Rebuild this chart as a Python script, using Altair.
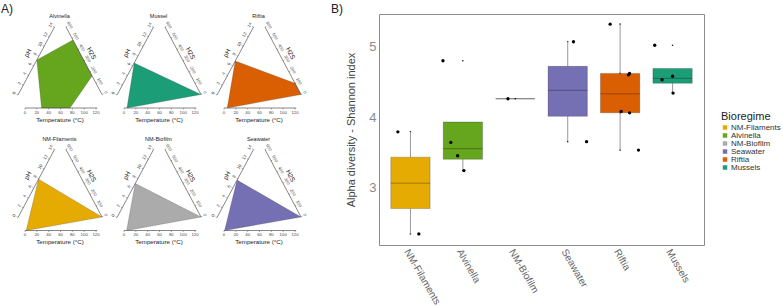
import altair as alt
import pandas as pd
import math

# ---------------- Panel A data (ternary-like panels) ----------------
panel_titles = ["Alvinella", "Mussel", "Riftia", "NM-Filaments", "NM-Biofilm", "Seawater"]
panel_regimes = ["Alvinella", "Mussels", "Riftia", "NM-Filaments", "NM-Biofilm", "Seawater"]
panel_ph = [[7.2], [6.6], [7.0], [7.9], [7.0], [7.7]]
panel_h2s = [[485, 165], [0], [100, 0], [0], [0], [0]]
panel_temp = [[76, 28], [5], [5.5], [2], [4.5], [1]]

ph_ticks = [0, 2, 4, 6, 8, 10, 12, 14]
h2s_ticks = [0, 100, 200, 300, 400, 500, 600]
temp_ticks = [0, 20, 40, 60, 80, 100, 120]

# ---------------- Panel B data (box plots) ----------------
categories = ["NM-Filaments", "Alvinella", "NM-Biofilm", "Seawater", "Riftia", "Mussels"]
palette = ["#E6AB02", "#66A61E", "#ABABAB", "#7570B3", "#D95F02", "#1B9E77"]
box_q1 = [2.70, 3.40, 4.26, 4.01, 4.06, 4.48]
box_median = [3.06, 3.55, 4.26, 4.38, 4.33, 4.55]
box_q3 = [3.43, 3.93, 4.26, 4.72, 4.62, 4.69]
whisker_low = [2.34, 3.24, 4.26, 3.66, 3.53, 4.34]
whisker_high = [3.79, 3.93, 4.26, 5.07, 5.32, 4.69]
sample_values = [
    [3.79, 2.34],
    [4.80, 3.64, 3.45, 3.24],
    [4.26],
    [5.07, 3.65],
    [5.32, 4.62, 4.60, 4.08, 4.06, 3.53],
    [5.02, 4.58, 4.53, 4.34],
]
sample_jitter = [
    [-0.24, 0.16],
    [-0.38, -0.23, -0.10, 0.02],
    [-0.14],
    [0.11, 0.36],
    [-0.19, 0.18, 0.16, 0.02, 0.18, 0.35],
    [-0.34, 0.0, -0.20, 0.01],
]

# ---------------- layout constants ----------------
NARROW = "Liberation Sans Narrow, Arial Narrow, Liberation Sans, Arial, sans-serif"
SANS = "Liberation Sans, Arial, sans-serif"
PLOT_L, PLOT_T, PLOT_W, PLOT_H = 379, 14, 325, 231
X_DOM = [-0.6, 5.6]
Y_DOM = [2.182, 5.464]
COL_DX = [0, 99, 199]
ROW_DY = [0, 122.5]
T_X0, T_PX, T_Y = 25, 0.592, 108
PH_A, PH_B = (18, 95), (54.5, 27)
H_A, H_B = (102, 94.5), (66, 27)


def bx(px):
    # page position -> x units of the shared scale
    return X_DOM[0] + (px - PLOT_L) / PLOT_W * (X_DOM[1] - X_DOM[0])


def by(py):
    return Y_DOM[1] - (py - PLOT_T) / PLOT_H * (Y_DOM[1] - Y_DOM[0])


def along(a, b, t):
    return a[0] + t * (b[0] - a[0]), a[1] + t * (b[1] - a[1])


def unit(dx, dy):
    n = math.hypot(dx, dy)
    return dx / n, dy / n


ph_dir = unit(PH_B[0] - PH_A[0], PH_B[1] - PH_A[1])
ph_n = (ph_dir[1], -ph_dir[0])
h_dir = unit(H_B[0] - H_A[0], H_B[1] - H_A[1])
h_n = (-h_dir[1], h_dir[0])
ph_ang = (math.degrees(math.atan2(ph_dir[1], ph_dir[0])) + 360) % 360
h_ang = math.degrees(math.atan2(-h_dir[1], -h_dir[0]))


def ph_xy(v):
    return along(PH_A, PH_B, v / 14)


def h2s_xy(v):
    return along(H_A, H_B, v / 600)


def temp_xy(v):
    return T_X0 + T_PX * v, T_Y


def P(x, y, **kw):
    d = {"x": bx(x), "y": by(y)}
    d.update(kw)
    return d


def S(x, y, x2, y2):
    return {"x": bx(x), "y": by(y), "x2": bx(x2), "y2": by(y2)}


poly_rows, seg_rows, tick_rows = [], [], []
ph_lab, h_lab, t_lab, titles, ph_tit, h_tit, t_tit = [], [], [], [], [], [], []
for i, name in enumerate(panel_titles):
    dx, dy = COL_DX[i % 3], ROW_DY[i // 3]
    pts = [ph_xy(v) for v in panel_ph[i]] + [h2s_xy(v) for v in panel_h2s[i]] + [temp_xy(v) for v in panel_temp[i]]
    pts = pts + [pts[0]]
    for k, (x, y) in enumerate(pts):
        poly_rows.append(P(x + dx, y + dy, k=k, cat=panel_regimes[i]))
    for a, b in [(ph_xy(0), ph_xy(14)), (h2s_xy(0), h2s_xy(600)), (temp_xy(0), temp_xy(122))]:
        seg_rows.append(S(a[0] + dx, a[1] + dy, b[0] + dx, b[1] + dy))
    for v in ph_ticks:
        x, y = ph_xy(v)
        tick_rows.append(S(x + dx, y + dy, x + dx + 1.5 * ph_n[0], y + dy + 1.5 * ph_n[1]))
        ph_lab.append(P(x + dx + 4 * ph_n[0], y + dy + 4 * ph_n[1], t=str(v)))
    for v in h2s_ticks:
        x, y = h2s_xy(v)
        tick_rows.append(S(x + dx, y + dy, x + dx + 1.5 * h_n[0], y + dy + 1.5 * h_n[1]))
        h_lab.append(P(x + dx + 4 * h_n[0], y + dy + 4 * h_n[1], t=str(v)))
    for v in temp_ticks:
        x, y = temp_xy(v)
        tick_rows.append(S(x + dx, y + dy, x + dx, y + dy + 1.5))
        t_lab.append(P(x + dx, y + dy + 4.6, t=str(v)))
    titles.append(P(59.5 + dx, 16 + dy, t=name))
    px, py = along(PH_A, PH_B, 0.54)
    ph_tit.append(P(px + dx + 11 * ph_n[0], py + dy + 11 * ph_n[1], t="pH"))
    hx, hy = along(H_A, H_B, 0.54)
    h_tit.append(P(hx + dx + 10 * h_n[0], hy + dy + 10 * h_n[1], t="H2S"))
    t_tit.append(P(60 + dx, 119.5 + dy, t="Temperature (°C)"))

letters = [P(1, 8.5, t="A)"), P(331, 8.5, t="B)")]

xs = alt.Scale(domain=X_DOM, nice=False, zero=False)
ys = alt.Scale(domain=Y_DOM, nice=False, zero=False)
color_scale = alt.Scale(domain=categories, range=palette)
label_expr = "[" + ",".join("'" + c + "'" for c in categories) + "][datum.value]"

x_axis = alt.Axis(
    values=list(range(len(categories))), labelExpr=label_expr, title=None, grid=False, domain=False,
    ticks=False, labelAngle=60, labelAlign="left", labelBaseline="top", labelPadding=2,
    labelFontSize=10, labelColor="#666666", labelFont=NARROW, labelOverlap=False, labelFlush=False,
)
y_axis = alt.Axis(
    values=[3, 4, 5], format=".0f", grid=False, domain=False, ticks=False, labelPadding=3,
    labelFontSize=13, labelColor="#8a8a8a", labelFont=NARROW, title="Alpha diversity - Shannon index",
    titleFont=NARROW, titleFontSize=11, titleFontWeight="normal", titleColor="#444444",
    titleX=-28, titleY=PLOT_H / 2, titleAngle=270, titleAlign="center", titleBaseline="middle",
)

HALF = 0.375
box_df = pd.DataFrame({
    "cat": categories,
    "i": list(range(len(categories))),
    "q1": box_q1, "med": box_median, "q3": box_q3,
    "lo": whisker_low, "hi": whisker_high,
})
box_df["xl"] = box_df["i"] - HALF
box_df["xr"] = box_df["i"] + HALF

pts_rows = []
for i, (vals, jit) in enumerate(zip(sample_values, sample_jitter)):
    for v, j in zip(vals, jit):
        pts_rows.append({"i": i, "v": v, "xj": i + j})
pts_df = pd.DataFrame(pts_rows)

# ---- Panel B layers; the first one carries scales and axes ----
small_dots = alt.Chart(pts_df).mark_circle(size=2.5, color="#111111", opacity=1).encode(
    x=alt.X("i:Q", scale=xs, axis=x_axis), y=alt.Y("v:Q", scale=ys, axis=y_axis),
)
whisk_lo = alt.Chart(box_df).mark_rule(color="#9a9a9a", strokeWidth=1).encode(
    x="i:Q", y="lo:Q", y2="q1:Q"
)
whisk_hi = alt.Chart(box_df).mark_rule(color="#9a9a9a", strokeWidth=1).encode(
    x="i:Q", y="q3:Q", y2="hi:Q"
)
boxes = alt.Chart(box_df).mark_rect(stroke="#000000", strokeOpacity=0.25, strokeWidth=0.8).encode(
    x="xl:Q", x2="xr:Q", y="q1:Q", y2="q3:Q",
    color=alt.Color(
        "cat:N", scale=color_scale, sort=categories,
        legend=alt.Legend(
            orient="none", legendX=342, legendY=96.5, title="Bioregime", titleFont=NARROW,
            titleFontSize=11, titleFontWeight="normal", titleColor="#222222", titlePadding=2,
            labelFont=NARROW, labelFontSize=8, labelColor="#333333", symbolType="square",
            symbolSize=20, symbolStrokeWidth=0, rowPadding=-1, padding=0, labelOffset=2,
        ),
    ),
)
medians = alt.Chart(box_df).mark_rule(color="#000000", opacity=0.3, strokeWidth=1).encode(
    x="xl:Q", x2="xr:Q", y="med:Q"
)
big_dots = alt.Chart(pts_df).mark_circle(size=11, color="#000000", opacity=1).encode(
    x="xj:Q", y="v:Q"
)

# ---- Panel A layers ----
polys = alt.Chart(pd.DataFrame(poly_rows)).mark_line(
    filled=True, stroke="#3a3a3a", strokeWidth=0.4, strokeOpacity=0.6
).encode(
    x="x:Q", y="y:Q", color=alt.Color("cat:N", scale=color_scale, legend=None), order=alt.Order("k:Q")
)
segs = alt.Chart(pd.DataFrame(seg_rows)).mark_rule(color="#555555", strokeWidth=0.7).encode(
    x="x:Q", y="y:Q", x2="x2:Q", y2="y2:Q"
)
ticks = alt.Chart(pd.DataFrame(tick_rows)).mark_rule(color="#555555", strokeWidth=0.5).encode(
    x="x:Q", y="y:Q", x2="x2:Q", y2="y2:Q"
)


def txt(rows, size, angle=0, color="#333333", font=SANS, align="center"):
    return alt.Chart(pd.DataFrame(rows)).mark_text(
        align=align, baseline="middle", fontSize=size, angle=angle, color=color, font=font
    ).encode(x="x:Q", y="y:Q", text="t:N")


chart = alt.layer(
    small_dots, whisk_lo, whisk_hi, boxes, medians, big_dots,
    polys, segs, ticks,
    txt(ph_lab, 4.3, ph_ang, "#444444"),
    txt(h_lab, 4.3, h_ang, "#444444"),
    txt(t_lab, 4.3, 0, "#444444"),
    txt(titles, 5.5, 0, "#222222"),
    txt(ph_tit, 6.5, ph_ang, "#222222"),
    txt(h_tit, 6.5, h_ang, "#222222"),
    txt(t_tit, 6.2, 0, "#222222"),
    txt(letters, 12, 0, "#222222", SANS, "left"),
).properties(
    width=PLOT_W, height=PLOT_H,
    autosize=alt.AutoSizeParams(type="none"),
    padding={"left": PLOT_L, "top": PLOT_T, "right": 783 - PLOT_L - PLOT_W, "bottom": 306 - PLOT_T - PLOT_H},
    background="white",
).configure_view(stroke="#8c8c8c", strokeWidth=1)

chart.save("out.html", embed_options={"renderer": "svg", "actions": False})
